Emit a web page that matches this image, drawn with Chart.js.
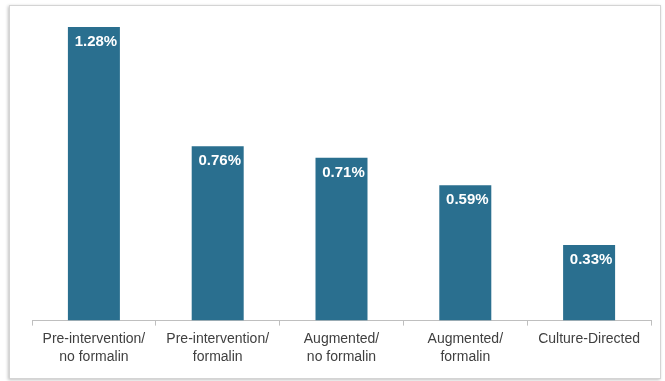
<!DOCTYPE html>
<html>
<head>
<meta charset="utf-8">
<script src="https://cdn.jsdelivr.net/npm/chart.js@4"></script>
<style>
  html, body { margin: 0; padding: 0; background: #fff; }
  .wrap { position: relative; width: 665px; height: 381px; }
  .frame {
    position: absolute; left: 9px; top: 5px; width: 650px; height: 372px;
    border: 1px solid #d4d4d4; box-shadow: -1px 1px 3px rgba(0,0,0,0.25);
  }
  canvas { position: absolute; left: 0; top: 0; }
</style>
</head>
<body>
<div class="wrap">
  <div class="frame"></div>
  <canvas id="myChart" width="665" height="381"></canvas>
</div>
<script>
const categories = [
  ["Pre-intervention/", "no formalin"],
  ["Pre-intervention/", "formalin"],
  ["Augmented/", "no formalin"],
  ["Augmented/", "formalin"],
  ["Culture-Directed"],
];
const rates = [1.28, 0.76, 0.71, 0.59, 0.33];
const rateLabels = ["1.28%", "0.76%", "0.71%", "0.59%", "0.33%"];

// white value labels inside the top of each bar
const barLabels = {
  id: "barLabels",
  afterDatasetsDraw(chart) {
    const ctx = chart.ctx;
    const meta = chart.getDatasetMeta(0);
    ctx.save();
    ctx.fillStyle = "#ffffff";
    ctx.font = "bold 15px 'Liberation Sans', Arial, sans-serif";
    ctx.textAlign = "center";
    ctx.textBaseline = "middle";
    meta.data.forEach((bar, i) => {
      ctx.fillText(rateLabels[i], bar.x + 2, bar.y + 15);
    });
    ctx.restore();
  },
};

var ctx = document.getElementById("myChart").getContext("2d");
var myChart = new Chart(ctx, {
  type: "bar",
  data: {
    labels: categories,
    datasets: [
      {
        data: rates,
        backgroundColor: "#2a6f8f",
        borderWidth: 0,
        barPercentage: 0.42,
        categoryPercentage: 1,
      },
    ],
  },
  options: {
    responsive: false,
    animation: false,
    layout: {
      padding: { left: 32, right: 14, top: 11, bottom: 11 },
    },
    plugins: {
      legend: { display: false },
      tooltip: { enabled: false },
    },
    scales: {
      x: {
        grid: {
          offset: true,
          drawOnChartArea: false,
          tickLength: 5,
          color: "#bfbfbf",
        },
        border: { color: "#bfbfbf" },
        ticks: {
          color: "#404040",
          font: { family: "'Liberation Sans', Arial, sans-serif", size: 14, lineHeight: 1.3 },
          padding: 4,
          maxRotation: 0,
          autoSkip: false,
        },
      },
      y: {
        display: false,
        min: 0,
        max: 1.35,
      },
    },
  },
  plugins: [barLabels],
});
</script>
</body>
</html>
